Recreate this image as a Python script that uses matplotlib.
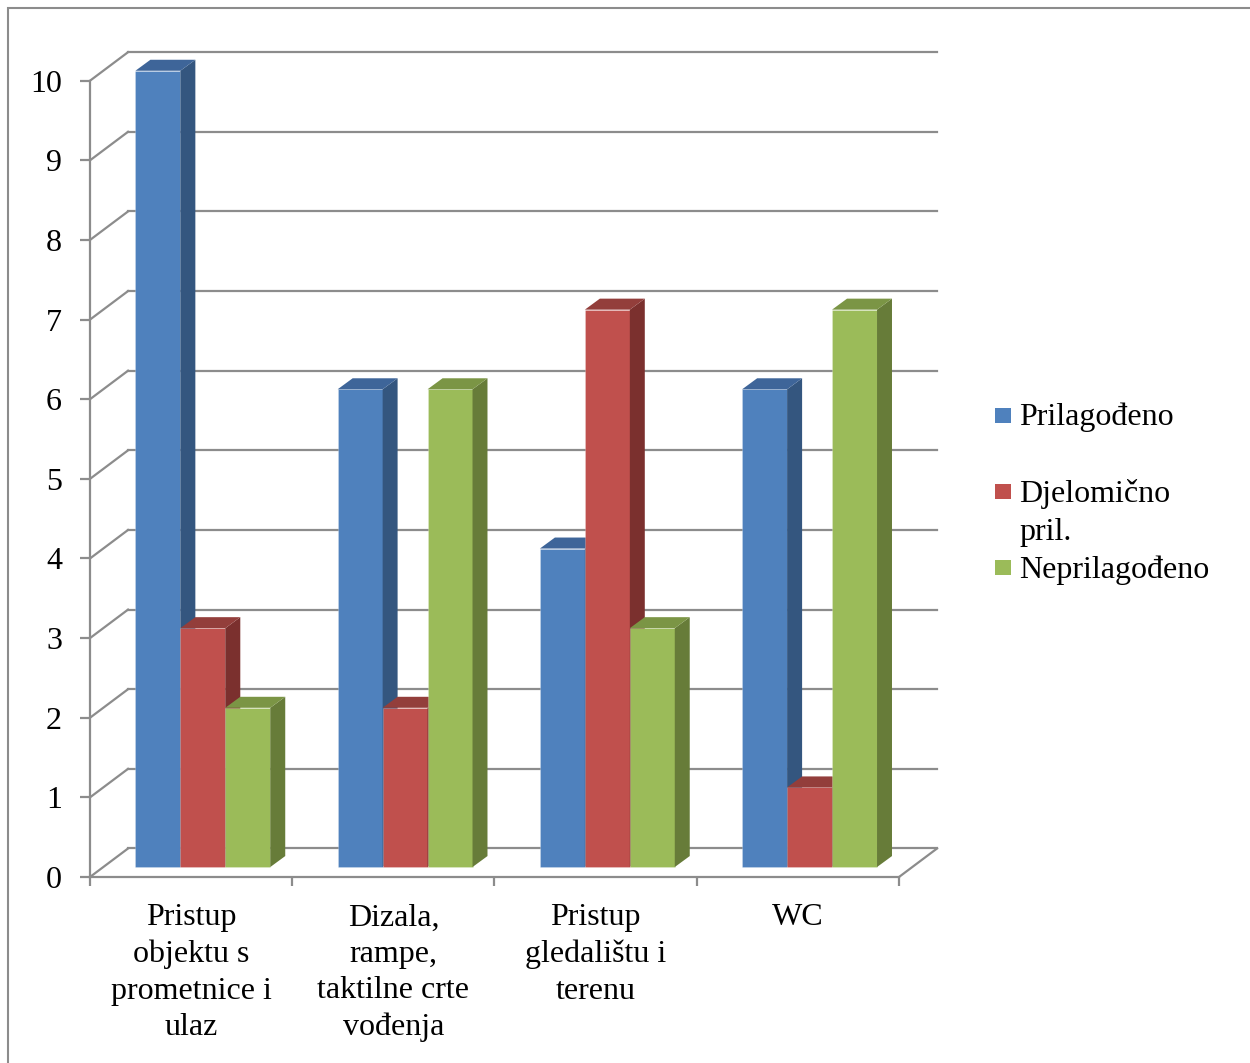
import matplotlib.pyplot as plt
from matplotlib.patches import Polygon, Rectangle

plt.rcParams['font.family'] = ['Liberation Serif', 'DejaVu Serif']

categories = [
    "Pristup\nobjektu s\nprometnice i\nulaz",
    "Dizala,\nrampe,\ntaktilne crte\nvođenja",
    "Pristup\ngledalištu i\nterenu",
    "WC",
]
series_names = ["Prilagođeno", "Djelomično\npril.", "Neprilagođeno"]
prilagodeno = [10, 6, 4, 6]
djelomicno = [3, 2, 7, 1]
neprilagodeno = [2, 6, 3, 7]
series = [prilagodeno, djelomicno, neprilagodeno]

front_colors = ["#4F81BD", "#C0504D", "#9BBB59"]
side_colors = ["#34567F", "#7B302E", "#677C39"]
top_colors = ["#3E6599", "#933E3B", "#7B9545"]
grid_col = "#8c8c8c"
fs = 23

W, H = 1250, 1063
fig = plt.figure(figsize=(W / 100, H / 100), dpi=100)
ax = fig.add_axes([90 / W, (H - 877) / H, 809 / W, 796.3 / H])
ax.set_xlim(0, 4)
ax.set_ylim(0, 10)

# 3d offsets (data units)
wall_dx, wall_dy = 0.188, 0.358
bar_dx, bar_dy = 0.058, 0.125
ext_dx, ext_dy = 0.074, 0.138
bw = 1 / 4.5

# back wall + side diagonals
for v in range(11):
    ax.plot([wall_dx, 4 + wall_dx], [v + wall_dy] * 2, color=grid_col, lw=1.6,
            clip_on=False, zorder=1)
    ax.plot([0, wall_dx], [v, v + wall_dy], color=grid_col, lw=1.6,
            clip_on=False, zorder=1)
ax.plot([4, 4 + wall_dx], [0, wall_dy], color=grid_col, lw=1.6, clip_on=False, zorder=1)

# bars
for s, vals in enumerate(series):
    xs = [c + (1 - 3 * bw) / 2 + s * bw + bar_dx for c in range(len(categories))]
    z = 3 + s * 0.1
    ax.bar(xs, vals, width=bw, bottom=bar_dy, align='edge', color=front_colors[s],
           edgecolor='#ffffff40', lw=0.6, zorder=z, clip_on=False)
    for x, v in zip(xs, vals):
        top = bar_dy + v
        side = [(x + bw, bar_dy), (x + bw + ext_dx, bar_dy + ext_dy),
                (x + bw + ext_dx, top + ext_dy), (x + bw, top)]
        lid = [(x, top), (x + ext_dx, top + ext_dy),
               (x + bw + ext_dx, top + ext_dy), (x + bw, top)]
        ax.add_patch(Polygon(side, closed=True, fc=side_colors[s], ec='none',
                             zorder=z, clip_on=False))
        ax.add_patch(Polygon(lid, closed=True, fc=top_colors[s], ec='none',
                             zorder=z, clip_on=False))

# axes
for sp in ['top', 'right']:
    ax.spines[sp].set_visible(False)
for sp in ['left', 'bottom']:
    ax.spines[sp].set_color(grid_col)
    ax.spines[sp].set_linewidth(1.6)
ax.set_facecolor('none')
ax.set_yticks(range(11))
ax.tick_params(axis='y', length=7.2, width=1.6, color=grid_col, pad=13,
               labelsize=fs)
ax.set_xticks(range(5))
ax.set_xticklabels([])
ax.tick_params(axis='x', which='major', length=6.5, width=1.6, color=grid_col)
ax.set_xticks([c + 0.5 for c in range(len(categories))], minor=True)
ax.set_xticklabels(categories, minor=True, fontsize=fs, linespacing=1.33)
ax.tick_params(axis='x', which='minor', length=0, pad=19)

# legend
key_y = [408, 484, 560]
base_y = [425, 502, 578]
for s, name in enumerate(series_names):
    fig.patches.append(Rectangle((995 / W, 1 - (key_y[s] + 15) / H), 16 / W, 15 / H,
                                 transform=fig.transFigure, fc=front_colors[s],
                                 ec='none'))
    for i, line in enumerate(name.split("\n")):
        fig.text(1019 / W, 1 - (base_y[s] + 38 * i) / H, line, fontsize=fs,
                 va='baseline', ha='left')

# outer border
fig.patches.append(Rectangle((8 / W, -0.05), 1.2, 1 - 8 / H + 0.05,
                             transform=fig.transFigure, fill=False, ec='#8c8c8c',
                             lw=1.5))

fig.savefig("out.png", dpi=100)
